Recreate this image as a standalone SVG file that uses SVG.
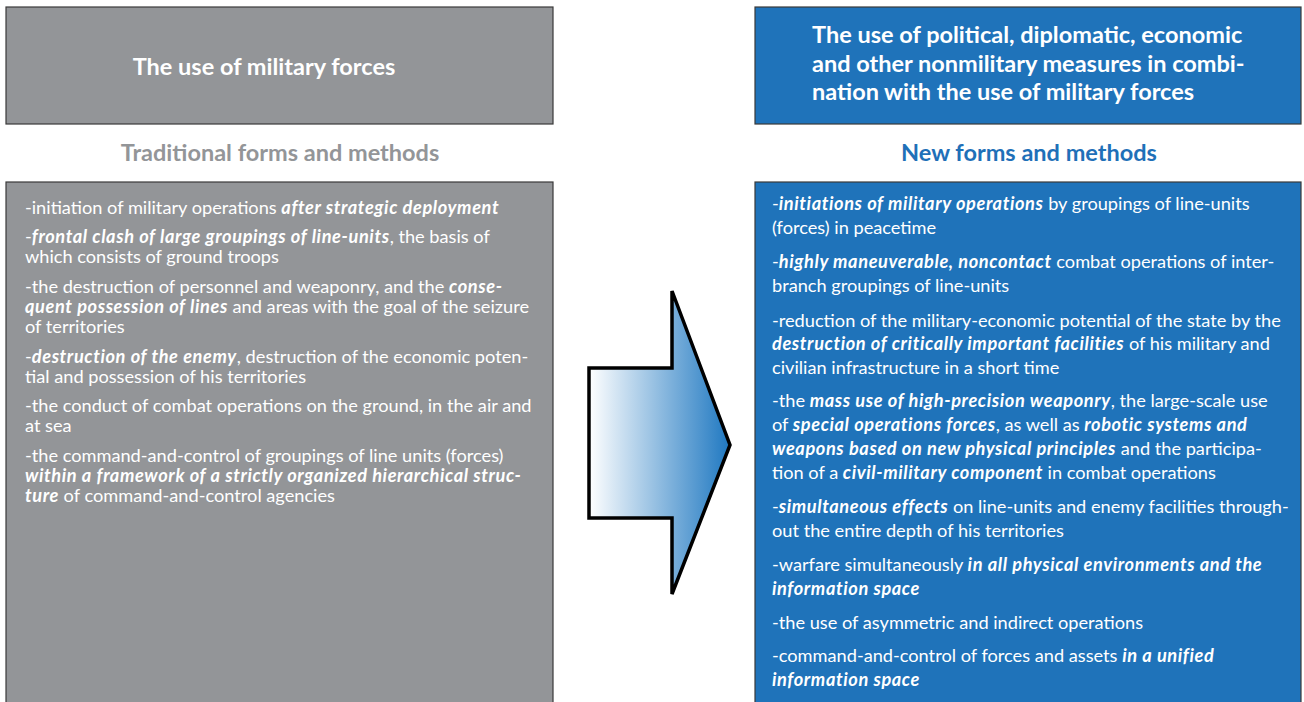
<svg xmlns="http://www.w3.org/2000/svg" width="1304" height="702" viewBox="0 0 1304 702">
<defs>
<linearGradient id="ag" x1="0" y1="0" x2="1" y2="0">
<stop offset="0" stop-color="#ffffff"/>
<stop offset="1" stop-color="#1f78c1"/>
</linearGradient>
<style>
.gbox{fill:#939598;stroke:#3a3a3a;stroke-width:1.2}
.bbox{fill:#1f73ba;stroke:#3a3a3a;stroke-width:1.2}
.hd{font-family:Lato,"Open Sans","Liberation Sans",sans-serif;font-weight:bold;font-size:23.5px;fill:#ffffff}
.sub{font-family:Lato,"Open Sans","Liberation Sans",sans-serif;font-weight:bold;font-size:23.5px}
.t{font-family:Lato,"Open Sans","Liberation Sans",sans-serif;font-weight:400;font-size:18.2px;fill:#ffffff}
.b{font-weight:bold;font-style:italic;letter-spacing:0.6px}
</style>
</defs>
<rect width="1304" height="702" fill="#ffffff"/>
<g id="left-header">
<rect class="gbox" x="6" y="7" width="547" height="117"/>
<text class="hd" x="264" y="75" text-anchor="middle">The use of military forces</text>
</g>
<g id="right-header">
<rect class="bbox" x="755" y="7" width="546" height="117"/>
<text class="hd" x="812" y="43">The use of political, diplomatic, economic</text>
<text class="hd" x="812" y="72">and other nonmilitary measures in combi-</text>
<text class="hd" x="812" y="100">nation with the use of military forces</text>
</g>
<g id="left-subtitle">
<text class="sub" x="280" y="161" text-anchor="middle" fill="#939598">Traditional forms and methods</text>
</g>
<g id="right-subtitle">
<text class="sub" x="1029" y="161" text-anchor="middle" fill="#1f70b8">New forms and methods</text>
</g>
<g id="left-body">
<rect class="gbox" x="6" y="182" width="547" height="530"/>
<text class="t" x="25" y="214">-initiation of military operations <tspan class="b">after strategic deployment</tspan></text>
<text class="t" x="25" y="243">-<tspan class="b">frontal clash of large groupings of line-units</tspan>, the basis of</text>
<text class="t" x="25" y="263">which consists of ground troops</text>
<text class="t" x="25" y="293">-the destruction of personnel and weaponry, and the <tspan class="b">conse-</tspan></text>
<text class="t" x="25" y="313"><tspan class="b">quent possession of lines</tspan> and areas with the goal of the seizure</text>
<text class="t" x="25" y="333">of territories</text>
<text class="t" x="25" y="363">-<tspan class="b">destruction of the enemy</tspan>, destruction of the economic poten-</text>
<text class="t" x="25" y="383">tial and possession of his territories</text>
<text class="t" x="25" y="412">-the conduct of combat operations on the ground, in the air and</text>
<text class="t" x="25" y="432">at sea</text>
<text class="t" x="25" y="462">-the command-and-control of groupings of line units (forces)</text>
<text class="t" x="25" y="482"><tspan class="b">within a framework of a strictly organized hierarchical struc-</tspan></text>
<text class="t" x="25" y="502"><tspan class="b">ture</tspan> of command-and-control agencies</text>
</g>
<g id="right-body">
<rect class="bbox" x="755" y="182" width="546" height="530"/>
<text class="t" x="772" y="210">-<tspan class="b">initiations of military operations</tspan> by groupings of line-units</text>
<text class="t" x="772" y="234">(forces) in peacetime</text>
<text class="t" x="772" y="268">-<tspan class="b">highly maneuverable, noncontact</tspan> combat operations of inter-</text>
<text class="t" x="772" y="292">branch groupings of line-units</text>
<text class="t" x="772" y="327">-reduction of the military-economic potential of the state by the</text>
<text class="t" x="772" y="350"><tspan class="b">destruction of critically important facilities</tspan> of his military and</text>
<text class="t" x="772" y="374">civilian infrastructure in a short time</text>
<text class="t" x="772" y="407">-the <tspan class="b">mass use of high-precision weaponry</tspan>, the large-scale use</text>
<text class="t" x="772" y="431">of <tspan class="b">special operations forces</tspan>, as well as <tspan class="b">robotic systems and</tspan></text>
<text class="t" x="772" y="455"><tspan class="b">weapons based on new physical principles</tspan> and the participa-</text>
<text class="t" x="772" y="479">tion of a <tspan class="b">civil-military component</tspan> in combat operations</text>
<text class="t" x="772" y="513">-<tspan class="b">simultaneous effects</tspan> on line-units and enemy facilities through-</text>
<text class="t" x="772" y="537">out the entire depth of his territories</text>
<text class="t" x="772" y="571">-warfare simultaneously <tspan class="b">in all physical environments and the</tspan></text>
<text class="t" x="772" y="595"><tspan class="b">information space</tspan></text>
<text class="t" x="772" y="629">-the use of asymmetric and indirect operations</text>
<text class="t" x="772" y="662">-command-and-control of forces and assets <tspan class="b">in a unified</tspan></text>
<text class="t" x="772" y="686"><tspan class="b">information space</tspan></text>
</g>
<g id="connectors">
<path d="M589,368 L672,368 L672,291 L730,445 L672,594 L672,518 L589,518 Z" fill="url(#ag)" stroke="#000000" stroke-width="3.5" stroke-linejoin="miter"/>
</g>
</svg>
